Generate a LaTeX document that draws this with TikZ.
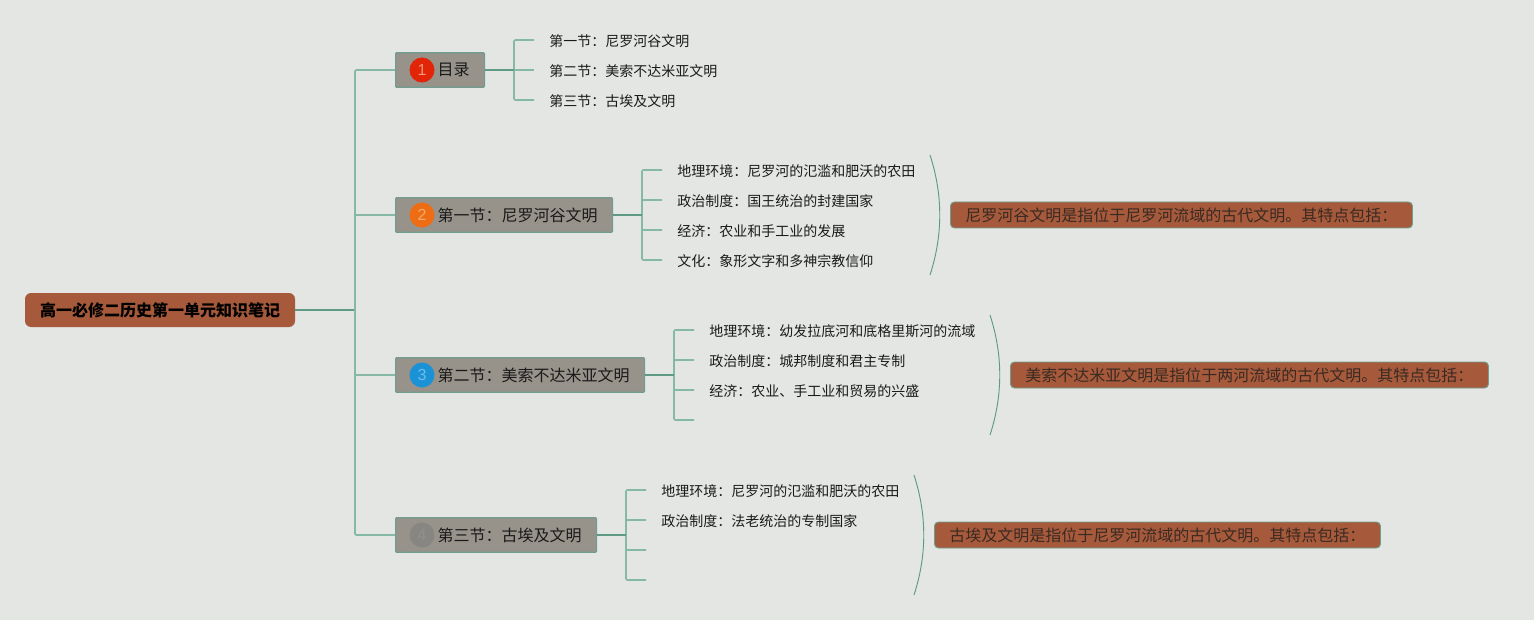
\documentclass[tikz,border=0pt]{standalone}
\usepackage{fontspec}
\setmainfont{Noto Sans CJK SC}
\newfontfamily\numfont{Liberation Sans}
\definecolor{bgc}{HTML}{E3E6E3}
\definecolor{boxc}{HTML}{97928A}
\definecolor{boxl}{HTML}{6F9E90}
\definecolor{brownc}{HTML}{A65A3B}
\definecolor{lightl}{HTML}{86B8A6}
\definecolor{darkl}{HTML}{5F9A86}
\definecolor{txt}{HTML}{1A1A1A}
\definecolor{txtb}{HTML}{3A2A22}
\tikzset{
  rootbox/.style={fill=brownc,rounded corners=4.5pt,minimum width=202.5pt,minimum height=25.5pt,inner sep=0pt,font=\fontsize{12}{14}\selectfont\bfseries,text=black},
  secbox/.style={draw=boxl,line width=0.9pt,fill=boxc,rounded corners=0.8pt,minimum height=26pt,inner ysep=0pt,inner xsep=11.25pt,anchor=west,font=\fontsize{12}{14}\selectfont,text=txt},
  badge/.style={circle,minimum size=18.75pt,inner sep=0pt,font=\numfont\fontsize{12}{14}\selectfont},
  leaf/.style={anchor=west,inner sep=0pt,font=\fontsize{10.5}{13}\selectfont,text=txt},
  notebox/.style={draw=boxl,line width=0.7pt,fill=brownc,rounded corners=3pt,minimum height=19.5pt,inner ysep=0pt,inner xsep=11.25pt,anchor=west,font=\fontsize{12}{14}\selectfont,text=txtb},
  thin branch/.style={draw=lightl,line width=1.2pt,rounded corners=1pt},
  thick branch/.style={draw=darkl,line width=1.6pt},
  side arc/.style={draw=darkl,line width=0.7pt}
}
\begin{document}
\begin{tikzpicture}[x=0.75pt,y=-0.75pt]
\useasboundingbox (0,0) rectangle (1534,620);
\fill[bgc] (0,0) rectangle (1534,620);

% root and main spine
\node[rootbox] (root) at (160,310) {高一必修二历史第一单元知识笔记};
\coordinate (hub) at (355,310);

% section boxes
\node[secbox] (s1) at (395,70) {\hspace{20.25pt}\raisebox{-0.7pt}{目录}};
\node[secbox] (s2) at (395,215) {\hspace{20.25pt}\raisebox{-0.7pt}{第一节：尼罗河谷文明}};
\node[secbox] (s3) at (395,375) {\hspace{20.25pt}\raisebox{-0.7pt}{第二节：美索不达米亚文明}};
\node[secbox] (s4) at (395,535) {\hspace{20.25pt}\raisebox{-0.7pt}{第三节：古埃及文明}};

\node[badge,fill={rgb,255:red,226;green,36;blue,8},text={rgb,255:red,240;green,150;blue,120}] (b1) at (422,70) {1};
\node[badge,fill={rgb,255:red,238;green,108;blue,20},text={rgb,255:red,240;green,170;blue,110}] (b2) at (422,215) {2};
\node[badge,fill={rgb,255:red,28;green,146;blue,214},text={rgb,255:red,110;green,190;blue,230}] (b3) at (422,375) {3};
\node[badge,fill={rgb,255:red,136;green,134;blue,130},text={rgb,255:red,146;green,144;blue,140}] (b4) at (422,535) {4};

\draw[thick branch] (root.east) -- (hub);
\draw[thin branch] (hub) |- (s1.west);
\draw[thin branch] (hub) |- (s2.west);
\draw[thin branch] (hub) |- (s3.west);
\draw[thin branch] (hub) |- (s4.west);

% section 1 leaves
\coordinate (h1) at (514,70);
\coordinate (e11) at (534,40);
\coordinate (e12) at (534,70);
\coordinate (e13) at (534,100);
\node[leaf] (l11) at (549,41.5) {第一节：尼罗河谷文明};
\node[leaf] (l12) at (549,71.5) {第二节：美索不达米亚文明};
\node[leaf] (l13) at (549,101.5) {第三节：古埃及文明};
\draw[thin branch] (h1) |- (e11);
\draw[thin branch] (h1) -- (e12);
\draw[thin branch] (h1) |- (e13);
\draw[thick branch] (s1.east) -- (h1);

% section 2 leaves
\coordinate (h2) at (642,215);
\coordinate (e21) at (662,170);
\coordinate (e22) at (662,200);
\coordinate (e23) at (662,230);
\coordinate (e24) at (662,260);
\node[leaf] (l21) at (677,171.5) {地理环境：尼罗河的氾滥和肥沃的农田};
\node[leaf] (l22) at (677,201.5) {政治制度：国王统治的封建国家};
\node[leaf] (l23) at (677,231.5) {经济：农业和手工业的发展};
\node[leaf] (l24) at (677,261.5) {文化：象形文字和多神宗教信仰};
\draw[thin branch] (h2) |- (e21);
\draw[thin branch] (h2) |- (e22);
\draw[thin branch] (h2) |- (e23);
\draw[thin branch] (h2) |- (e24);
\draw[thick branch] (s2.east) -- (h2);

% section 3 leaves
\coordinate (h3) at (674,375);
\coordinate (e31) at (694,330);
\coordinate (e32) at (694,360);
\coordinate (e33) at (694,390);
\coordinate (e34) at (694,420);
\node[leaf] (l31) at (709,331.5) {地理环境：幼发拉底河和底格里斯河的流域};
\node[leaf] (l32) at (709,361.5) {政治制度：城邦制度和君主专制};
\node[leaf] (l33) at (709,391.5) {经济：农业、手工业和贸易的兴盛};
\draw[thin branch] (h3) |- (e31);
\draw[thin branch] (h3) |- (e32);
\draw[thin branch] (h3) |- (e33);
\draw[thin branch] (h3) |- (e34);
\draw[thick branch] (s3.east) -- (h3);

% section 4 leaves
\coordinate (h4) at (626,535);
\coordinate (e41) at (646,490);
\coordinate (e42) at (646,520);
\coordinate (e43) at (646,550);
\coordinate (e44) at (646,580);
\node[leaf] (l41) at (661,491.5) {地理环境：尼罗河的氾滥和肥沃的农田};
\node[leaf] (l42) at (661,521.5) {政治制度：法老统治的专制国家};
\draw[thin branch] (h4) |- (e41);
\draw[thin branch] (h4) |- (e42);
\draw[thin branch] (h4) |- (e43);
\draw[thin branch] (h4) |- (e44);
\draw[thick branch] (s4.east) -- (h4);

% side notes with arcs
\node[notebox] (n2) at (950,215) {尼罗河谷文明是指位于尼罗河流域的古代文明。其特点包括：};
\node[notebox] (n3) at (1010,375) {美索不达米亚文明是指位于两河流域的古代文明。其特点包括：};
\node[notebox] (n4) at (934,535) {古埃及文明是指位于尼罗河流域的古代文明。其特点包括：};
\coordinate (a2a) at (930,155); \coordinate (a2b) at (930,275);
\coordinate (a3a) at (990,315); \coordinate (a3b) at (990,435);
\coordinate (a4a) at (914,475); \coordinate (a4b) at (914,595);
\draw[side arc] (a2a) .. controls (943,195) and (943,235) .. (a2b);
\draw[side arc] (a3a) .. controls (1003,355) and (1003,395) .. (a3b);
\draw[side arc] (a4a) .. controls (927,515) and (927,555) .. (a4b);
\end{tikzpicture}
\end{document}
